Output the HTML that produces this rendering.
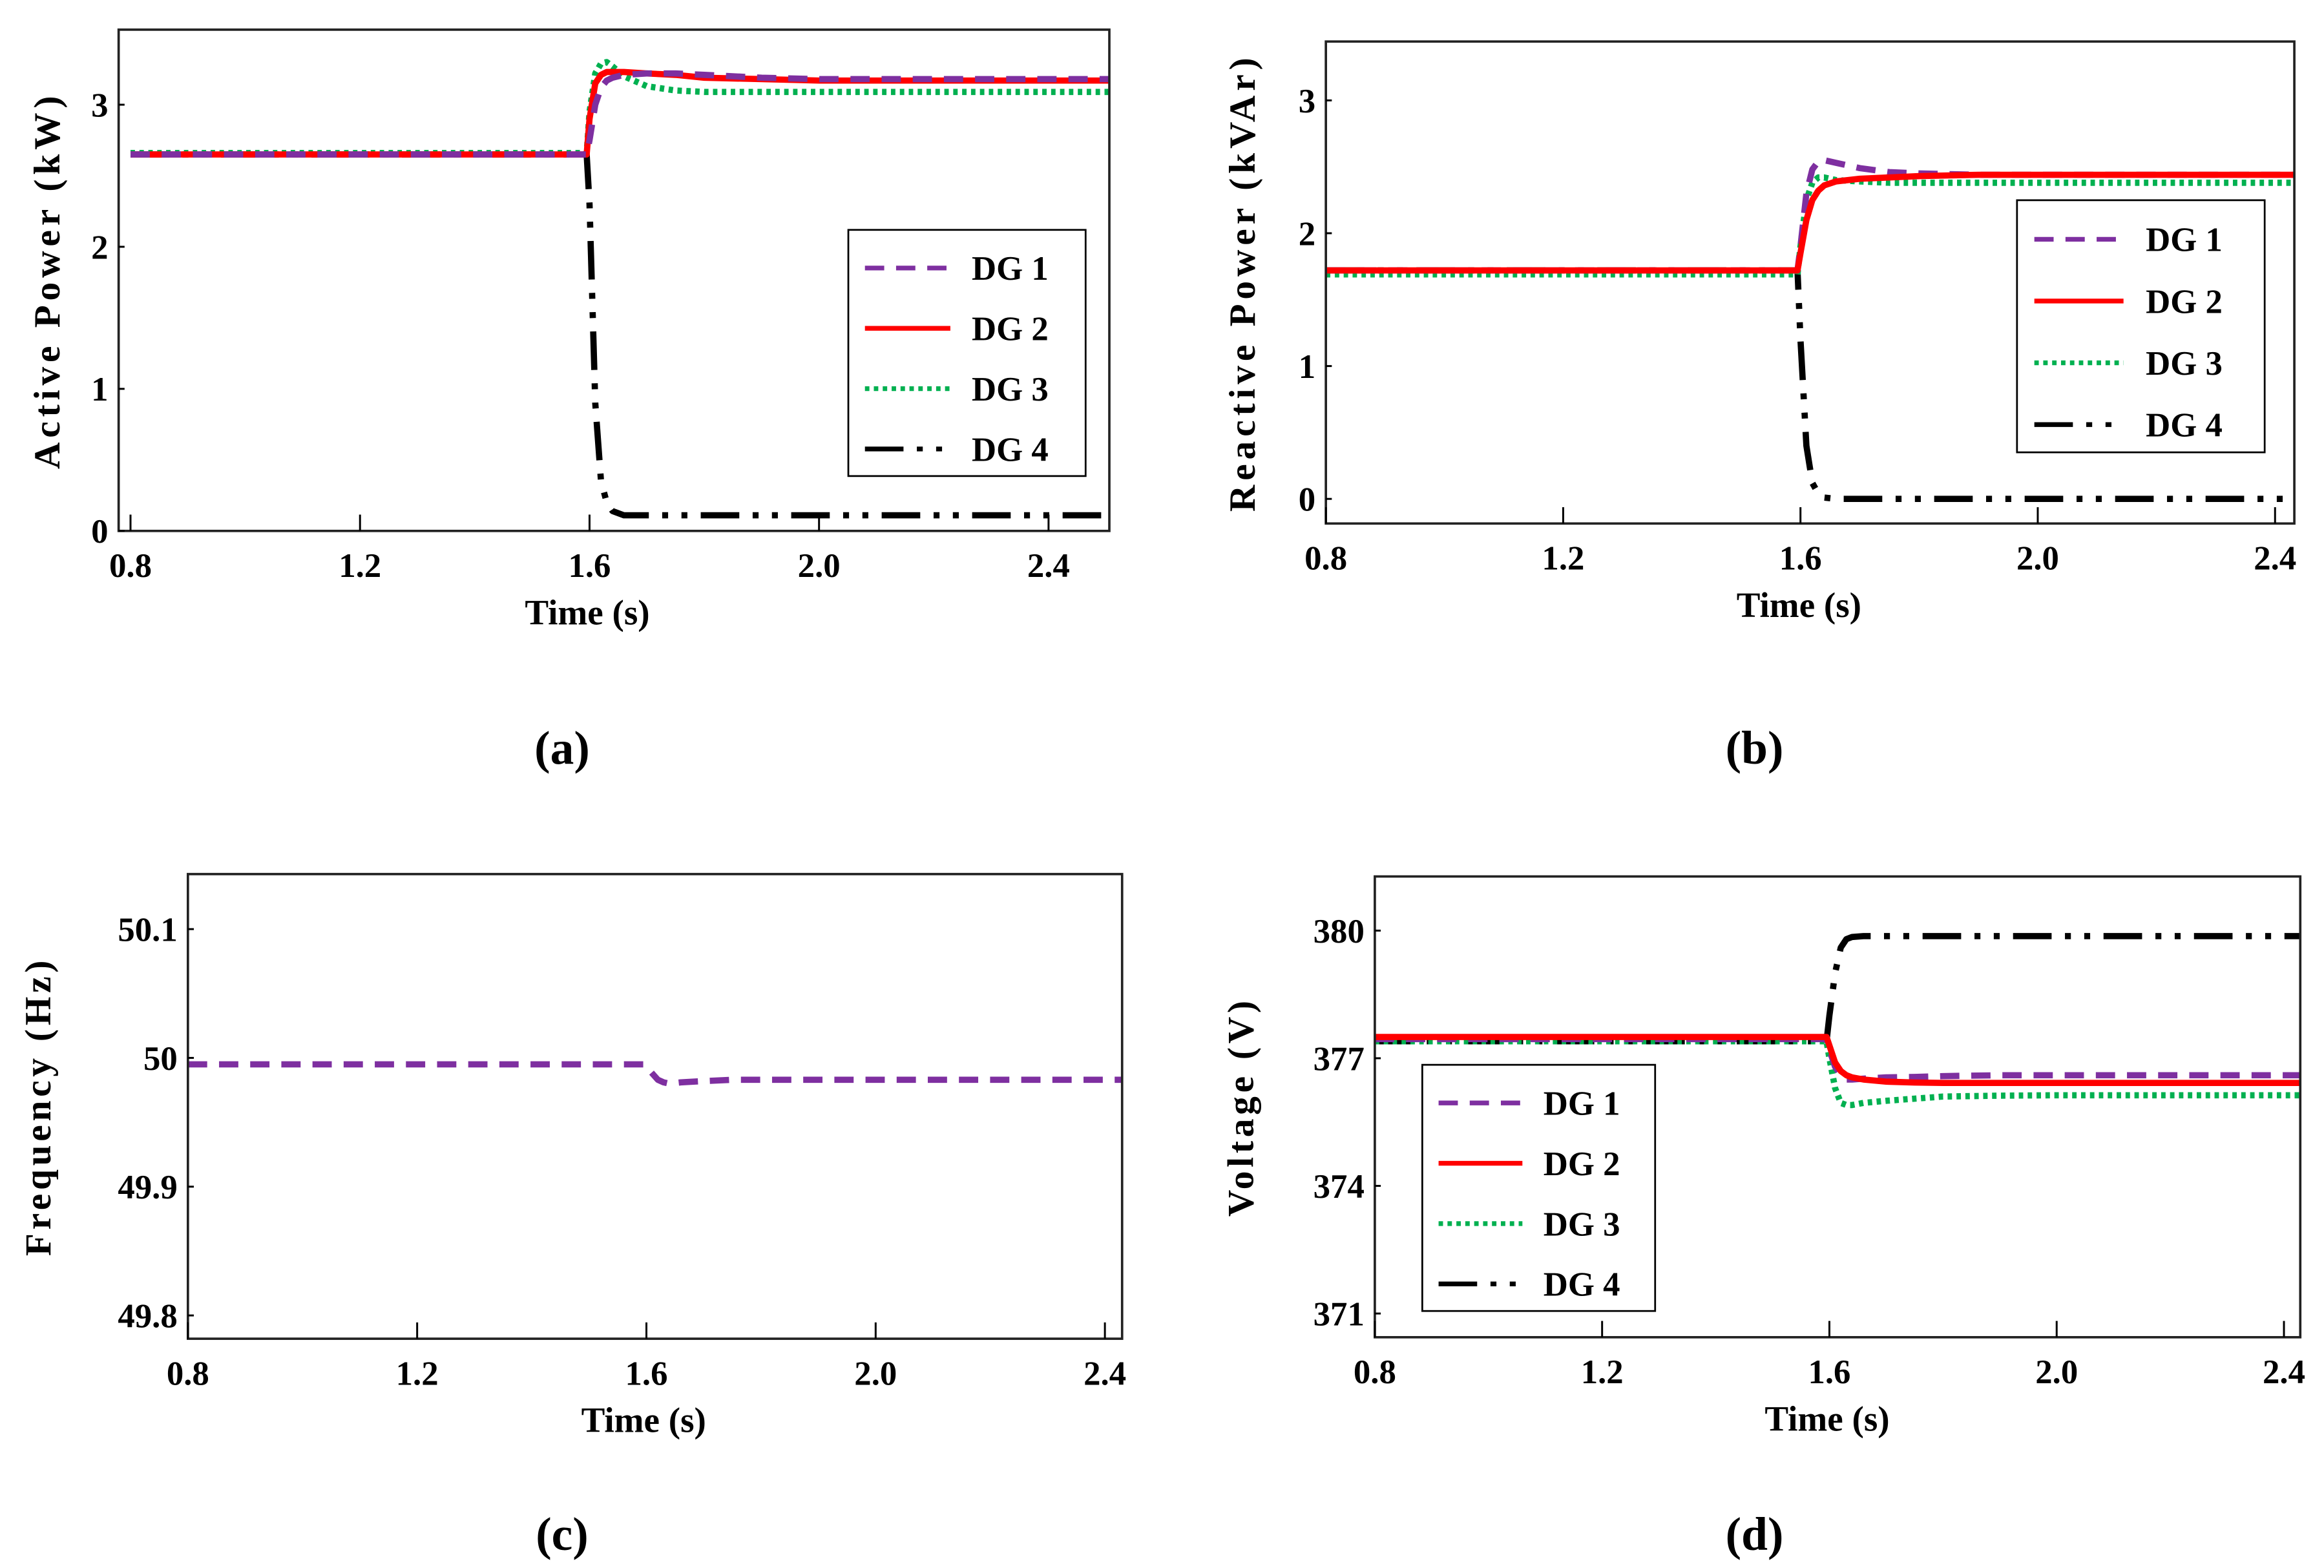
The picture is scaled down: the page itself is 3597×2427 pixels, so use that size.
<!DOCTYPE html>
<html><head><meta charset="utf-8"><style>
html,body{margin:0;padding:0;background:#fff;}
svg{display:block;}
text{font-family:"Liberation Serif",serif;font-weight:bold;fill:#000;}
</style></head><body>
<svg id="fig" width="3597" height="2427" viewBox="0 0 1567 1057.3" xmlns="http://www.w3.org/2000/svg"></svg>
<script>
// Shared time samples (s)
const times = [0.8,1.595,1.6,1.61,1.62,1.63,1.64,1.66,1.7,1.75,1.8,1.9,2.0,2.2,2.55];
// (a) Active power (kW)
const pDG1 = [2.65,2.65,2.75,3.0,3.12,3.17,3.19,3.21,3.22,3.22,3.21,3.19,3.18,3.18,3.18];
const pDG2 = [2.65,2.65,2.9,3.15,3.21,3.23,3.23,3.23,3.22,3.21,3.19,3.18,3.17,3.17,3.17];
const pDG3 = [2.66,2.66,2.95,3.22,3.29,3.30,3.27,3.2,3.13,3.1,3.09,3.09,3.09,3.09,3.09];
const pDG4 = [2.65,2.65,2.3,0.9,0.35,0.2,0.14,0.11,0.11,0.11,0.11,0.11,0.11,0.11,0.11];
// (b) Reactive power (kVAr)
const qDG1 = [1.72,1.72,1.9,2.3,2.48,2.54,2.55,2.53,2.49,2.46,2.45,2.44,2.44,2.44,2.44];
const qDG2 = [1.72,1.72,1.85,2.1,2.25,2.32,2.36,2.39,2.41,2.42,2.43,2.44,2.44,2.44,2.44];
const qDG3 = [1.69,1.69,1.9,2.25,2.38,2.42,2.42,2.4,2.39,2.38,2.38,2.38,2.38,2.38,2.38];
const qDG4 = [1.72,1.72,1.2,0.4,0.12,0.04,0.01,0,0,0,0,0,0,0,0];
// (c) Frequency (Hz)
const fDG1 = [49.995,49.995,49.993,49.988,49.983,49.981,49.98,49.981,49.982,49.983,49.983,49.983,49.983,49.983,49.983];
// (d) Voltage (V)
const vDG1 = [377.45,377.45,377.2,376.8,376.6,376.5,376.5,376.52,376.55,376.56,376.58,376.6,376.6,376.6,376.6];
const vDG2 = [377.5,377.5,377.3,376.9,376.7,376.6,376.55,376.5,376.45,376.43,376.42,376.42,376.42,376.42,376.42];
const vDG3 = [377.4,377.4,377.0,376.3,375.95,375.9,375.9,375.95,376.0,376.05,376.1,376.12,376.13,376.13,376.13];
const vDG4 = [377.4,377.4,378.0,379.0,379.6,379.8,379.85,379.87,379.87,379.87,379.87,379.87,379.87,379.87,379.87];
// Tick labels
const xTicks = [0.8,1.2,1.6,2.0,2.4];
const xTickLabels = ["0.8","1.2","1.6","2.0","2.4"];
const aTicks = [0,1,2,3];
const bTicks = [0,1,2,3];
const cTicks = [49.8,49.9,50,50.1];
const cTickLabels = ["49.8","49.9","50","50.1"];
const dTicks = [371,374,377,380];
const legendLabels = ["DG 1","DG 2","DG 3","DG 4"];

const NS="http://www.w3.org/2000/svg";
const svg=document.getElementById('fig');
function mk(tag,attrs,parent){const e=document.createElementNS(NS,tag);for(const k in attrs)e.setAttribute(k,attrs[k]);(parent||svg).appendChild(e);return e;}

const styles=[
 {color:"#7e2fa0",dash:"13 8",w:4.2},
 {color:"#ff0000",dash:"",w:4.2},
 {color:"#00b050",dash:"3 3",w:4.2},
 {color:"#000000",dash:"26 9 4 9 4 9",w:4.2}
];

function panel(cfg){
  const g=mk('g',{});
  
  
  const x=v=>cfg.x0px+(v-0.8)*(cfg.x24px-cfg.x0px)/1.6;
  const y=v=>cfg.ylo_px+(v-cfg.ylo)*(cfg.yhi_px-cfg.ylo_px)/(cfg.yhi-cfg.ylo);
  const cid='clip-'+cfg.name;
  const cp=mk('clipPath',{id:cid},g);
  mk('rect',{x:cfg.L,y:cfg.T,width:cfg.R-cfg.L,height:cfg.B-cfg.T},cp);
  const order=cfg.order||[0,1,2,3];
  order.forEach(i=>{
    const vals=cfg.series[i]; if(!vals) return;
    const d=times.map((t,k)=>(k?'L':'M')+x(t).toFixed(2)+','+y(vals[k]).toFixed(2)).join(' ');
    const p=mk('path',{d:d,fill:'none',stroke:styles[i].color,'stroke-width':styles[i].w,'stroke-dasharray':styles[i].dash,'clip-path':'url(#'+cid+')','stroke-linejoin':'round'},g);
    
    
  });
  const fr=mk('rect',{x:cfg.L,y:cfg.T,width:cfg.R-cfg.L,height:cfg.B-cfg.T,fill:'none',stroke:'#222','stroke-width':1.6},g);
  
  
  xTicks.forEach((v,i)=>{
    const xx=x(v);
    mk('line',{x1:xx,x2:xx,y1:cfg.B,y2:cfg.B-11,stroke:'#000','stroke-width':1.3},g);
    const t=mk('text',{x:xx,y:cfg.B+31,'text-anchor':'middle','font-size':23},g);
    t.textContent=xTickLabels[i];
    
    
  });
  cfg.yTicks.forEach((v,i)=>{
    const yy=y(v);
    mk('line',{x1:cfg.L,x2:cfg.L+4,y1:yy,y2:yy,stroke:'#000','stroke-width':1.3},g);
    const t=mk('text',{x:cfg.L-7,y:yy+8,'text-anchor':'end','font-size':23},g);
    t.textContent=cfg.yLabels[i];
    
    
  });
  const xt=mk('text',{x:cfg.xtx,y:cfg.B+63,'text-anchor':'middle','font-size':24},g);
  xt.textContent='Time (s)';
  
  
  const yt=mk('text',{x:0,y:0,'text-anchor':'middle','font-size':25,'letter-spacing':cfg.ls||'2.5',transform:'translate('+cfg.ytx+','+((cfg.T+cfg.B)/2)+') rotate(-90)'},g);
  yt.textContent=cfg.ytitle;
  
  
  const cap=mk('text',{x:cfg.capx,y:cfg.capy,'text-anchor':'middle','font-size':32},g);
  cap.textContent=cfg.cap;
  
  
  if(cfg.leg){
    const [lx,ly,lw,lh]=cfg.leg;
    const lg=mk('g',{},g);
    
    
    mk('rect',{x:lx,y:ly,width:lw,height:lh,fill:'#fff',stroke:'#000','stroke-width':1.2},lg);
    legendLabels.forEach((lab,i)=>{
      const yy=ly+lh*(0.155+0.245*i);
      const ln=mk('line',{x1:lx+lw*0.07,x2:lx+lw*0.43,y1:yy,y2:yy,stroke:styles[i].color,'stroke-width':3.2,'stroke-dasharray':styles[i].dash},lg);
      
      
      const t=mk('text',{x:lx+lw*0.52,y:yy+8,'font-size':23},lg);
      t.textContent=lab;
      
      
    });
  }
}

panel({name:'panel-a-active-power',L:80,R:748,T:20,B:358,x0px:88,x24px:707,ylo:0,yhi:3,ylo_px:358,yhi_px:70.6,
  series:[pDG1,pDG2,pDG3,pDG4],order:[3,2,1,0],yTicks:aTicks,yLabels:["0","1","2","3"],
  ytitle:'Active Power (kW)',ytx:40,xtx:396,cap:'(a)',capx:379,capy:515,leg:[572,155,160,166],ls:'3'});
panel({name:'panel-b-reactive-power',L:894,R:1547,T:28,B:353,x0px:894,x24px:1534,ylo:0,yhi:3,ylo_px:336.4,yhi_px:67.7,
  series:[qDG1,qDG2,qDG3,qDG4],order:[3,2,0,1],yTicks:bTicks,yLabels:["0","1","2","3"],
  ytitle:'Reactive  Power (kVAr)',ytx:846,xtx:1213,cap:'(b)',capx:1183,capy:515,leg:[1360,135,167,170],ls:'3'});
panel({name:'panel-c-frequency',L:126.7,R:756.6,T:589.4,B:902.7,x0px:126.7,x24px:745,ylo:49.8,yhi:50.1,ylo_px:887,yhi_px:626.5,
  series:[fDG1,null,null,null],yTicks:cTicks,yLabels:cTickLabels,
  ytitle:'Frequency (Hz)',ytx:34,xtx:434,cap:'(c)',capx:379,capy:1045,ls:'2.5'});
panel({name:'panel-d-voltage',L:927,R:1551,T:591,B:901.7,x0px:927,x24px:1540,ylo:371,yhi:380,ylo_px:885.7,yhi_px:627.5,
  series:[vDG1,vDG2,vDG3,vDG4],order:[3,2,0,1],yTicks:dTicks,yLabels:["371","374","377","380"],
  ytitle:'Voltage (V)',ytx:845,xtx:1232,cap:'(d)',capx:1183,capy:1045,leg:[959,718,157,166],ls:'2.5'});
</script>
</body></html>
